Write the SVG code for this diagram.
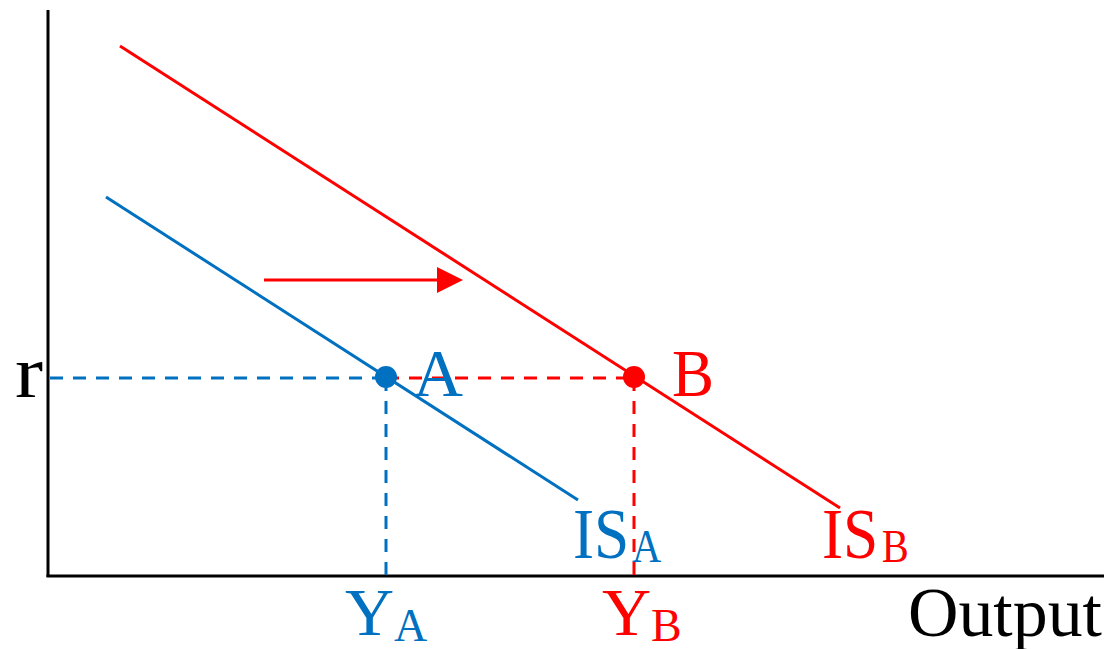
<svg xmlns="http://www.w3.org/2000/svg" width="1106" height="649" viewBox="0 0 1106 649">
<style>
.ax{stroke:#000;stroke-width:3;fill:none}
.bl{stroke:#0070C0;stroke-width:3;fill:none}
.rd{stroke:#FF0000;stroke-width:3;fill:none}
.dash{stroke-dasharray:13 10}
text{font-family:"Liberation Serif","Times New Roman",serif}
.tb{fill:#0070C0}
.tr{fill:#FF0000}
.tk{fill:#000}
.sub{font-size:46px}
</style>
<defs>
<marker id="ah" viewBox="0 0 26 26" refX="0" refY="13" markerWidth="26" markerHeight="26" markerUnits="userSpaceOnUse" orient="auto">
<path d="M0,0 L26,13 L0,26 Z" fill="#FF0000"/>
</marker>
</defs>
<g id="axes">
<line class="ax" x1="48" y1="10" x2="48" y2="577"/>
<line class="ax" x1="46.5" y1="576" x2="1104" y2="576"/>
</g>
<g id="connectors">
<line class="bl dash" x1="50" y1="378" x2="386" y2="378"/>
<line class="rd dash" x1="386" y1="378" x2="634" y2="378"/>
<line class="bl dash" x1="386" y1="378" x2="386" y2="575"/>
<line class="rd dash" x1="634" y1="378" x2="634" y2="575"/>
<line class="rd" x1="264" y1="280" x2="437" y2="280" marker-end="url(#ah)"/>
</g>
<g id="IS_A">
<line class="bl" x1="106" y1="197" x2="578" y2="500"/>
<text class="tb" transform="translate(573,558) scale(0.88,1)" font-size="72">IS<tspan class="sub" dx="3" dy="4">A</tspan></text>
</g>
<g id="IS_B">
<line class="rd" x1="120" y1="46" x2="840" y2="508"/>
<text class="tr" transform="translate(822,558) scale(0.88,1)" font-size="72">IS<tspan class="sub" dx="4" dy="4">B</tspan></text>
</g>
<g id="pointA">
<circle cx="386" cy="377" r="11" fill="#0070C0"/>
<text class="tb" x="413" y="396" font-size="68" textLength="50" lengthAdjust="spacingAndGlyphs">A</text>
</g>
<g id="pointB">
<circle cx="634" cy="377" r="11" fill="#FF0000"/>
<text class="tr" x="672" y="396" font-size="68" textLength="42" lengthAdjust="spacingAndGlyphs">B</text>
</g>
<g id="labels">
<text class="tk" x="15" y="397" font-size="74" textLength="28" lengthAdjust="spacingAndGlyphs">r</text>
<text class="tb" x="345" y="635" font-size="68">Y<tspan class="sub" dy="6">A</tspan></text>
<text class="tr" x="602" y="635" font-size="68">Y<tspan class="sub" dy="6">B</tspan></text>
<text class="tk" x="908" y="636" font-size="70" textLength="194" lengthAdjust="spacingAndGlyphs">Output</text>
</g>
</svg>
